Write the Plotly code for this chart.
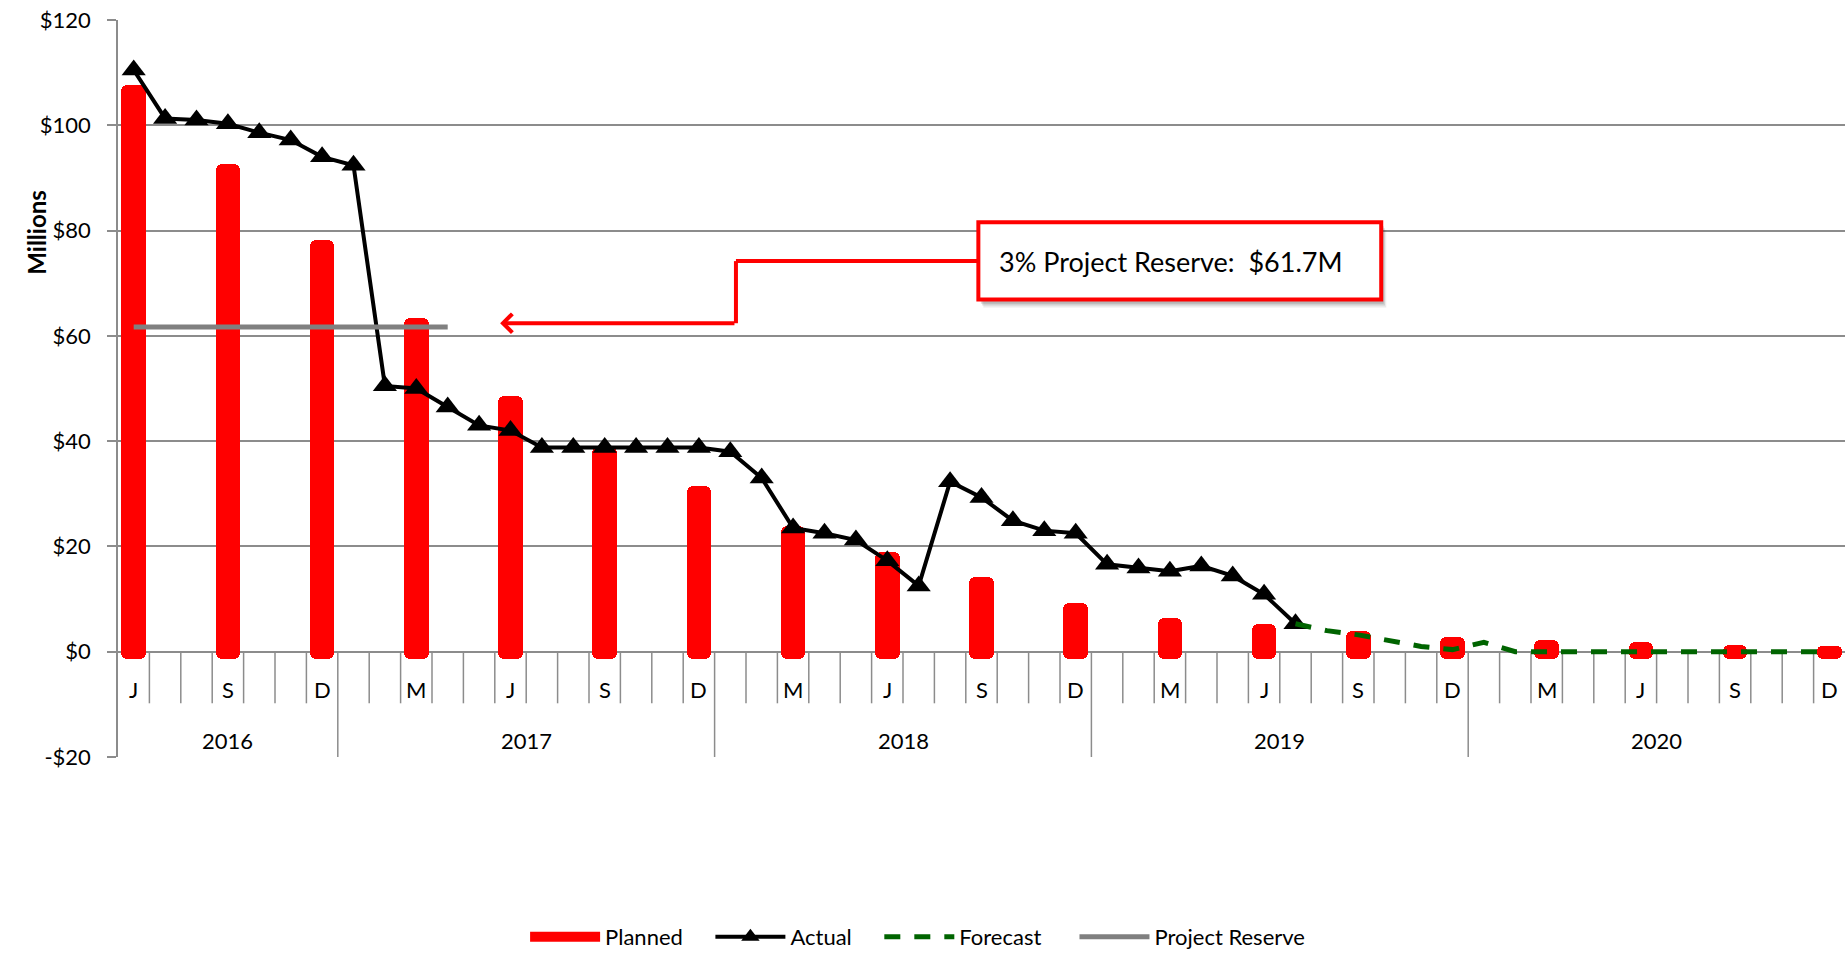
import pandas as pd
import plotly.graph_objects as go

# ---- data -----------------------------------------------------------------
MONTHS = [p.strftime("%Y-%m") for p in pd.period_range("2016-06", "2020-12", freq="M")]
MONTH_LETTERS = {3: "M", 6: "J", 9: "S", 12: "D"}

PLANNED_MONTHS = ["2016-06", "2016-09", "2016-12", "2017-03", "2017-06", "2017-09",
                  "2017-12", "2018-03", "2018-06", "2018-09", "2018-12", "2019-03",
                  "2019-06", "2019-09", "2019-12", "2020-03", "2020-06", "2020-09",
                  "2020-12"]
PLANNED = [107.6, 92.7, 78.3, 63.4, 48.5, 38.9, 31.5, 23.9, 19.0, 14.1, 9.2, 6.4,
           5.3, 4.0, 2.8, 2.3, 1.9, 1.3, 1.0]

ACTUAL_MONTHS = [p.strftime("%Y-%m") for p in pd.period_range("2016-06", "2019-07", freq="M")]
ACTUAL = [110.5, 101.3, 101.0, 100.3, 98.6, 97.2, 94.0,
          92.4, 50.5, 50.0, 46.5, 43.0, 42.0, 38.8, 38.8, 38.8, 38.8, 38.8, 38.8,
          38.0, 33.0, 23.5, 22.5, 21.2, 17.3, 12.5, 32.3, 29.3, 24.9, 23.0, 22.5,
          16.6, 15.9, 15.3, 16.3, 14.4, 10.9, 5.3]

FORECAST_MONTHS = [p.strftime("%Y-%m") for p in pd.period_range("2019-07", "2020-12", freq="M")]
FORECAST = [5.3, 4.0, 3.2, 2.2, 1.0, 0.4, 1.8, 0, 0, 0, 0, 0, 0, 0, 0, 0, 0, 0]

RESERVE_MONTHS = ["2016-06", "2017-04"]
RESERVE = [61.7, 61.7]
RESERVE_LABEL = "3% Project Reserve:  $61.7M"

Y_TICKS = [-20, 0, 20, 40, 60, 80, 100, 120]

# ---- styling ----------------------------------------------------------------
FONT = "Lato"
GRID = "#8c8c8c"
RED = "#ff0000"
GREEN = "#006400"
BAR_CAP = 1.4          # rounded foot of each planned bar below the axis
MONTH_TICK_DEPTH = 9.8
LABEL_Y_MONTH = -7.1
LABEL_Y_YEAR = -16.8
NB = "\u00a0"          # spacing between legend entries


def legend_name(text, pad):
    return text + NB * pad


fig = go.Figure()

fig.add_trace(go.Bar(
    x=PLANNED_MONTHS, y=PLANNED, name="Planned", width=0.78, legendgroup="planned",
    marker=dict(color=RED, line=dict(width=0), cornerradius=6),
    showlegend=False,
))
fig.add_trace(go.Bar(
    x=PLANNED_MONTHS, y=[-BAR_CAP] * len(PLANNED), width=0.78, legendgroup="planned",
    marker=dict(color=RED, line=dict(width=0), cornerradius=6),
    showlegend=False, hoverinfo="skip",
))
# legend swatch for the planned bars (wide block, as in the key)
fig.add_trace(go.Scatter(
    x=[None], y=[None], name=legend_name("Planned", 4), legendgroup="planned",
    mode="lines", line=dict(color=RED, width=22),
))
fig.add_trace(go.Scatter(
    x=ACTUAL_MONTHS, y=ACTUAL, name=legend_name("Actual", 4), mode="lines+markers",
    line=dict(color="black", width=4),
    marker=dict(symbol="triangle-up", size=21, color="black"),
))
fig.add_trace(go.Scatter(
    x=FORECAST_MONTHS, y=FORECAST, name=legend_name("Forecast", 5), mode="lines",
    line=dict(color=GREEN, width=5, dash="16px,14px"),
))
fig.add_trace(go.Scatter(
    x=RESERVE_MONTHS, y=RESERVE, name="Project Reserve", mode="lines",
    line=dict(color="#808080", width=5),
))

# ---- two-level month / year category axis drawn along y = 0 ------------------
shapes = []
annotations = []
for i, m in enumerate(MONTHS):
    month = int(m[5:])
    if month in MONTH_LETTERS:
        annotations.append(dict(x=i, y=LABEL_Y_MONTH, xref="x", yref="y", text=MONTH_LETTERS[month],
                                showarrow=False, font=dict(family=FONT, size=22, color="black")))
    if i < len(MONTHS) - 1:
        depth = -20 if month == 12 else -MONTH_TICK_DEPTH
        shapes.append(dict(type="line", xref="x", yref="y", x0=i + 0.5, x1=i + 0.5, y0=0, y1=depth,
                           line=dict(color=GRID, width=1.5), layer="below"))

years = sorted({m[:4] for m in MONTHS})
for yr in years:
    idx = [i for i, m in enumerate(MONTHS) if m.startswith(yr)]
    annotations.append(dict(x=(idx[0] + idx[-1]) / 2, y=LABEL_Y_YEAR, xref="x", yref="y", text=yr,
                            showarrow=False, font=dict(family=FONT, size=22, color="black")))

# ---- call-out box for the reserve -------------------------------------------
BOX = dict(x0=26.9, x1=39.73, y0=66.9, y1=81.6)
for dx, dy, a in [(0.16, 1.5, 0.10), (0.12, 1.15, 0.14), (0.08, 0.8, 0.18)]:
    shapes.append(dict(type="rect", xref="x", yref="y",
                       x0=BOX["x0"] + dx, x1=BOX["x1"] + dx, y0=BOX["y0"] - dy, y1=BOX["y1"] - dy,
                       line=dict(width=0), fillcolor=f"rgba(60,60,60,{a})"))
shapes.append(dict(type="rect", xref="x", yref="y", **BOX,
                   line=dict(color=RED, width=4), fillcolor="white"))
annotations.append(dict(x=BOX["x0"] + 0.6, y=74.1, xref="x", yref="y", text=RESERVE_LABEL,
                        xanchor="left", yanchor="middle", showarrow=False,
                        font=dict(family=FONT, size=27, color="black")))

# elbow connector from the box to the reserve level
ELBOW_X, TOP_Y, TIP_X, TIP_Y = 19.18, 74.2, 11.67, 62.4
shapes.append(dict(type="line", xref="x", yref="y", x0=BOX["x0"], x1=ELBOW_X, y0=TOP_Y, y1=TOP_Y,
                   line=dict(color=RED, width=4)))
shapes.append(dict(type="line", xref="x", yref="y", x0=ELBOW_X, x1=ELBOW_X, y0=TOP_Y, y1=TIP_Y,
                   line=dict(color=RED, width=4)))
annotations.append(dict(x=TIP_X, y=TIP_Y, xref="x", yref="y", ax=ELBOW_X, ay=TIP_Y,
                        axref="x", ayref="y", text="", showarrow=True,
                        arrowhead=4, arrowsize=0.9, arrowwidth=4, arrowcolor=RED, standoff=0))

# y-axis title
annotations.append(dict(x=-0.0567, y=79.7, xref="paper", yref="y", text="<b>Millions</b>",
                        textangle=-90, showarrow=False,
                        font=dict(family=FONT, size=24, color="black")))

fig.update_layout(
    width=1845, height=958,
    margin=dict(l=118, r=0, t=20, b=200),
    paper_bgcolor="white", plot_bgcolor="white",
    barmode="overlay", bargap=0,
    font=dict(family=FONT, size=21, color="black"),
    shapes=shapes, annotations=annotations,
    showlegend=True,
    legend=dict(orientation="h", x=0.463, xanchor="center", y=-0.244, yanchor="middle",
                font=dict(family=FONT, size=22, color="black"), itemwidth=70,
                traceorder="normal"),
    xaxis=dict(type="category", categoryorder="array", categoryarray=MONTHS,
               range=[-0.5, len(MONTHS) - 0.5], showticklabels=False, ticks="",
               showgrid=False, zeroline=False, showline=False, fixedrange=True),
    yaxis=dict(range=[-20, 120], tickvals=Y_TICKS,
               ticktext=[("-$" if v < 0 else "$") + str(abs(v)) for v in Y_TICKS],
               showgrid=True, gridcolor=GRID, gridwidth=1.5, zeroline=False,
               showline=True, linecolor=GRID, linewidth=1.5,
               ticks="outside", ticklen=9, tickcolor=GRID, tickwidth=1.5,
               ticklabelstandoff=12,
               tickfont=dict(family=FONT, size=22, color="black")),
)

fig.write_html("out.html")
